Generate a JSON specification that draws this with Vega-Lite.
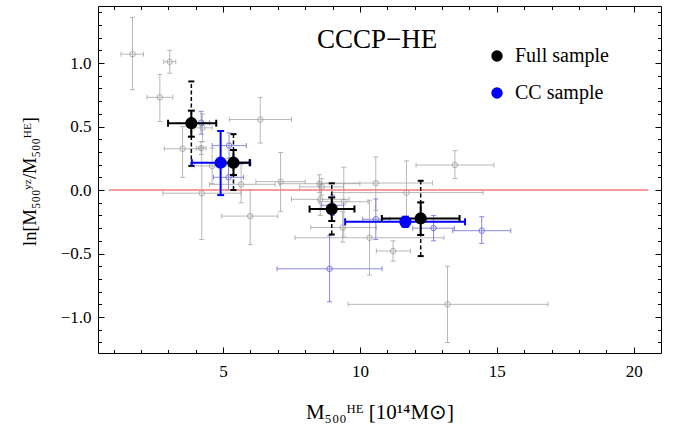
{
  "$schema": "https://vega.github.io/schema/vega-lite/v6.json",
  "width": 563,
  "height": 347,
  "autosize": {"type": "none"},
  "padding": {"left": 98, "top": 6, "right": 15, "bottom": 80},
  "background": "white",
  "config": {
    "view": {"stroke": "black", "strokeWidth": 1},
    "font": "Liberation Serif"
  },
  "datasets": {
    "small": [
      {"g":"gray","x":1.69,"y":1.07,"xlo":1.27,"xhi":2.09,"ylo":0.79,"yhi":1.36},
      {"g":"gray","x":3.05,"y":1.01,"xlo":2.83,"xhi":3.27,"ylo":0.92,"yhi":1.10},
      {"g":"gray","x":2.69,"y":0.73,"xlo":2.22,"xhi":3.16,"ylo":0.54,"yhi":0.91},
      {"g":"gray","x":6.36,"y":0.555,"xlo":5.23,"xhi":7.5,"ylo":0.37,"yhi":0.73},
      {"g":"gray","x":3.52,"y":0.325,"xlo":2.85,"xhi":4.2,"ylo":0.1,"yhi":0.5},
      {"g":"gray","x":4.25,"y":0.49,"xlo":3.95,"xhi":4.6,"ylo":0.38,"yhi":0.6},
      {"g":"gray","x":4.2,"y":0.33,"xlo":4.02,"xhi":4.38,"ylo":0.28,"yhi":0.38},
      {"g":"gray","x":4.6,"y":0.19,"xlo":3.95,"xhi":5.3,"ylo":0.05,"yhi":0.33},
      {"g":"gray","x":5.66,"y":0.045,"xlo":4.5,"xhi":6.9,"ylo":-0.1,"yhi":0.2},
      {"g":"gray","x":7.1,"y":0.066,"xlo":6.2,"xhi":8.0,"ylo":-0.17,"yhi":0.295},
      {"g":"gray","x":4.22,"y":-0.025,"xlo":2.8,"xhi":5.66,"ylo":-0.39,"yhi":0.34},
      {"g":"gray","x":5.99,"y":-0.205,"xlo":4.95,"xhi":7.0,"ylo":-0.43,"yhi":0.0},
      {"g":"gray","x":8.52,"y":0.05,"xlo":7.07,"xhi":10.0,"ylo":-0.02,"yhi":0.12},
      {"g":"gray","x":8.6,"y":0.025,"xlo":7.8,"xhi":9.4,"ylo":-0.04,"yhi":0.09},
      {"g":"gray","x":10.58,"y":0.055,"xlo":8.5,"xhi":12.65,"ylo":-0.16,"yhi":0.26},
      {"g":"gray","x":13.47,"y":0.197,"xlo":12.05,"xhi":14.9,"ylo":0.09,"yhi":0.31},
      {"g":"gray","x":11.7,"y":-0.02,"xlo":9.0,"xhi":14.5,"ylo":-0.26,"yhi":0.23},
      {"g":"gray","x":8.55,"y":-0.073,"xlo":7.5,"xhi":9.6,"ylo":-0.2,"yhi":0.05},
      {"g":"gray","x":9.41,"y":-0.092,"xlo":8.5,"xhi":10.3,"ylo":-0.37,"yhi":0.18},
      {"g":"gray","x":9.37,"y":-0.295,"xlo":8.2,"xhi":10.6,"ylo":-0.41,"yhi":-0.17},
      {"g":"gray","x":10.35,"y":-0.376,"xlo":7.63,"xhi":13.07,"ylo":-0.67,"yhi":-0.08},
      {"g":"gray","x":11.21,"y":-0.48,"xlo":10.6,"xhi":11.85,"ylo":-0.56,"yhi":-0.4},
      {"g":"gray","x":13.2,"y":-0.9,"xlo":9.57,"xhi":16.87,"ylo":-1.2,"yhi":-0.6},
      {"g":"blue","x":4.2,"y":0.53,"xlo":3.9,"xhi":4.5,"ylo":0.44,"yhi":0.62},
      {"g":"blue","x":5.22,"y":0.35,"xlo":4.6,"xhi":5.85,"ylo":0.25,"yhi":0.45},
      {"g":"blue","x":5.2,"y":0.1,"xlo":4.65,"xhi":5.75,"ylo":0.0,"yhi":0.2},
      {"g":"blue","x":9.0,"y":-0.12,"xlo":8.6,"xhi":9.4,"ylo":-0.2,"yhi":-0.04},
      {"g":"blue","x":10.58,"y":-0.23,"xlo":10.1,"xhi":11.1,"ylo":-0.39,"yhi":-0.07},
      {"g":"blue","x":12.69,"y":-0.3,"xlo":11.93,"xhi":13.45,"ylo":-0.4,"yhi":-0.2},
      {"g":"blue","x":14.45,"y":-0.32,"xlo":13.39,"xhi":15.51,"ylo":-0.42,"yhi":-0.21},
      {"g":"blue","x":8.89,"y":-0.62,"xlo":6.97,"xhi":10.81,"ylo":-0.88,"yhi":-0.36}
    ],
    "big": [
      {"sample":"CC sample","x":4.91,"y":0.215,"xlo":3.86,"xhi":5.99,"ylo":-0.04,"yhi":0.465},
      {"sample":"CC sample","x":11.66,"y":-0.25,"xlo":9.46,"xhi":13.84,"ylo":-0.29,"yhi":-0.21},
      {"sample":"Full sample","x":3.84,"y":0.526,"xlo":2.99,"xhi":4.75,"ylo":0.42,"yhi":0.625,"dlo":0.19,"dhi":0.855},
      {"sample":"Full sample","x":5.38,"y":0.215,"xlo":4.93,"xhi":5.97,"ylo":0.118,"yhi":0.315,"dlo":0.0,"dhi":0.44},
      {"sample":"Full sample","x":8.97,"y":-0.15,"xlo":8.16,"xhi":9.8,"ylo":-0.244,"yhi":-0.058,"dlo":-0.35,"dhi":0.053},
      {"sample":"Full sample","x":12.22,"y":-0.224,"xlo":10.8,"xhi":13.64,"ylo":-0.354,"yhi":-0.097,"dlo":-0.52,"dhi":0.073}
    ]
  },
  "resolve": {"axis": {"x": "independent", "y": "independent"}},
  "layer": [
    {
      "data": {"name": "big"},
      "mark": {"type": "point", "opacity": 0},
      "encoding": {
        "x": {"field": "x", "type": "quantitative", "scale": {"domain": [0.43, 21.0], "nice": false, "zero": false},
          "axis": {"orient": "bottom", "values": [5, 10, 15, 20], "ticks": false, "domain": false, "grid": false,
            "labelFont": "Liberation Serif", "labelFontSize": 17, "labelColor": "black", "labelPadding": 10, "labelFlush": false, "labelOverlap": false,
            "title": "M₅₀₀ᴴᴱ [10¹⁴M⊙]", "titleFont": "Liberation Serif", "titleFontSize": 21, "titleFontWeight": "normal", "titleColor": "black",
            "titleBaseline": "alphabetic", "titleAlign": "center", "titleX": 281.5, "titleY": 65}},
        "y": {"field": "y", "type": "quantitative", "scale": {"domain": [-1.283, 1.449], "nice": false, "zero": false},
          "axis": {"orient": "left", "values": [-1, -0.5, 0, 0.5, 1], "format": ".1f", "ticks": false, "domain": false, "grid": false,
            "labelFont": "Liberation Serif", "labelFontSize": 17, "labelColor": "black", "labelPadding": 7, "labelFlush": false, "labelOverlap": false,
            "title": "ln[M₅₀₀ʸᶻ/M₅₀₀ᴴᴱ]", "titleFont": "Liberation Serif", "titleFontSize": 18.5, "titleFontWeight": "normal", "titleColor": "black",
            "titleAngle": -90, "titleBaseline": "alphabetic", "titleAlign": "center", "titleX": -63, "titleY": 175}}
      }
    },
    {
      "data": {"name": "big"},
      "mark": {"type": "point", "opacity": 0},
      "encoding": {
        "x": {"field": "x", "type": "quantitative", "scale": {"domain": [0.43, 21.0], "nice": false, "zero": false},
          "axis": {"orient": "bottom", "values": [5, 10, 15, 20], "labels": false, "domain": false, "grid": false, "offset": -6, "tickSize": 6, "tickColor": "black", "tickWidth": 1, "title": null}},
        "y": {"field": "y", "type": "quantitative", "scale": {"domain": [-1.283, 1.449], "nice": false, "zero": false},
          "axis": {"orient": "left", "values": [-1, -0.5, 0, 0.5, 1], "labels": false, "domain": false, "grid": false, "offset": -6, "tickSize": 6, "tickColor": "black", "tickWidth": 1, "title": null}}
      }
    },
    {
      "data": {"name": "big"},
      "mark": {"type": "point", "opacity": 0},
      "encoding": {
        "x": {"field": "x", "type": "quantitative", "scale": {"domain": [0.43, 21.0], "nice": false, "zero": false},
          "axis": {"orient": "bottom", "values": [1,2,3,4,6,7,8,9,11,12,13,14,16,17,18,19], "labels": false, "domain": false, "grid": false, "offset": -3.5, "tickSize": 3.5, "tickColor": "black", "tickWidth": 1, "title": null}},
        "y": {"field": "y", "type": "quantitative", "scale": {"domain": [-1.283, 1.449], "nice": false, "zero": false},
          "axis": {"orient": "left", "values": [-1.2,-1.1,-0.9,-0.8,-0.7,-0.6,-0.4,-0.3,-0.2,-0.1,0.1,0.2,0.3,0.4,0.6,0.7,0.8,0.9,1.1,1.2,1.3,1.4], "labels": false, "domain": false, "grid": false, "offset": -3.5, "tickSize": 3.5, "tickColor": "black", "tickWidth": 1, "title": null}}
      }
    },
    {
      "data": {"name": "big"},
      "mark": {"type": "point", "opacity": 0},
      "encoding": {
        "x": {"field": "x", "type": "quantitative", "scale": {"domain": [0.43, 21.0], "nice": false, "zero": false},
          "axis": {"orient": "top", "values": [5, 10, 15, 20], "labels": false, "domain": false, "grid": false, "offset": -6, "tickSize": 6, "tickColor": "black", "tickWidth": 1, "title": null}},
        "y": {"field": "y", "type": "quantitative", "scale": {"domain": [-1.283, 1.449], "nice": false, "zero": false},
          "axis": {"orient": "right", "values": [-1, -0.5, 0, 0.5, 1], "labels": false, "domain": false, "grid": false, "offset": -6, "tickSize": 6, "tickColor": "black", "tickWidth": 1, "title": null}}
      }
    },
    {
      "data": {"name": "big"},
      "mark": {"type": "point", "opacity": 0},
      "encoding": {
        "x": {"field": "x", "type": "quantitative", "scale": {"domain": [0.43, 21.0], "nice": false, "zero": false},
          "axis": {"orient": "top", "values": [1,2,3,4,6,7,8,9,11,12,13,14,16,17,18,19], "labels": false, "domain": false, "grid": false, "offset": -3.5, "tickSize": 3.5, "tickColor": "black", "tickWidth": 1, "title": null}},
        "y": {"field": "y", "type": "quantitative", "scale": {"domain": [-1.283, 1.449], "nice": false, "zero": false},
          "axis": {"orient": "right", "values": [-1.2,-1.1,-0.9,-0.8,-0.7,-0.6,-0.4,-0.3,-0.2,-0.1,0.1,0.2,0.3,0.4,0.6,0.7,0.8,0.9,1.1,1.2,1.3,1.4], "labels": false, "domain": false, "grid": false, "offset": -3.5, "tickSize": 3.5, "tickColor": "black", "tickWidth": 1, "title": null}}
      }
    },
    {
      "data": {"name": "small"},
      "mark": {"type": "rule", "strokeWidth": 1, "opacity": 0.75},
      "encoding": {
        "x": {"field": "xlo", "type": "quantitative", "scale": {"domain": [0.43, 21.0], "nice": false, "zero": false}, "axis": null},
        "x2": {"field": "xhi"},
        "y": {"field": "y", "type": "quantitative", "scale": {"domain": [-1.283, 1.449], "nice": false, "zero": false}, "axis": null},
        "stroke": {"field": "g", "type": "nominal", "scale": {"domain": ["gray", "blue"], "range": ["#a0a0a0", "#6464d6"]}, "legend": null}
      }
    },
    {
      "data": {"name": "small"},
      "mark": {"type": "rule", "strokeWidth": 1, "opacity": 0.75},
      "encoding": {
        "x": {"field": "x", "type": "quantitative", "scale": {"domain": [0.43, 21.0], "nice": false, "zero": false}, "axis": null},
        "y": {"field": "ylo", "type": "quantitative", "scale": {"domain": [-1.283, 1.449], "nice": false, "zero": false}, "axis": null},
        "y2": {"field": "yhi"},
        "stroke": {"field": "g", "type": "nominal", "legend": null}
      }
    },
    {
      "data": {"name": "small"},
      "transform": [{"fold": ["xlo", "xhi"], "as": ["k", "xc"]}],
      "mark": {"type": "tick", "orient": "vertical", "size": 5, "thickness": 1, "opacity": 0.75},
      "encoding": {
        "x": {"field": "xc", "type": "quantitative", "scale": {"domain": [0.43, 21.0], "nice": false, "zero": false}, "axis": null},
        "y": {"field": "y", "type": "quantitative", "scale": {"domain": [-1.283, 1.449], "nice": false, "zero": false}, "axis": null},
        "fill": {"field": "g", "type": "nominal", "scale": {"domain": ["gray", "blue"], "range": ["#a0a0a0", "#6464d6"]}, "legend": null}
      }
    },
    {
      "data": {"name": "small"},
      "transform": [{"fold": ["ylo", "yhi"], "as": ["k", "yc"]}],
      "mark": {"type": "tick", "orient": "horizontal", "size": 5, "thickness": 1, "opacity": 0.75},
      "encoding": {
        "x": {"field": "x", "type": "quantitative", "scale": {"domain": [0.43, 21.0], "nice": false, "zero": false}, "axis": null},
        "y": {"field": "yc", "type": "quantitative", "scale": {"domain": [-1.283, 1.449], "nice": false, "zero": false}, "axis": null},
        "fill": {"field": "g", "type": "nominal", "legend": null}
      }
    },
    {
      "data": {"name": "small"},
      "mark": {"type": "point", "filled": false, "size": 30, "strokeWidth": 1, "opacity": 0.85},
      "encoding": {
        "x": {"field": "x", "type": "quantitative", "scale": {"domain": [0.43, 21.0], "nice": false, "zero": false}, "axis": null},
        "y": {"field": "y", "type": "quantitative", "scale": {"domain": [-1.283, 1.449], "nice": false, "zero": false}, "axis": null},
        "stroke": {"field": "g", "type": "nominal", "legend": null}
      }
    },
    {
      "data": {"values": [{}]},
      "mark": {"type": "rule", "color": "#f27c7c", "strokeWidth": 1.5},
      "encoding": {
        "x": {"datum": 0.83, "type": "quantitative", "scale": {"domain": [0.43, 21.0], "nice": false, "zero": false}, "axis": null},
        "x2": {"datum": 20.54},
        "y": {"datum": 0, "type": "quantitative", "scale": {"domain": [-1.283, 1.449], "nice": false, "zero": false}, "axis": null}
      }
    },
    {
      "data": {"name": "big"},
      "transform": [{"filter": "datum.dlo != null"}],
      "mark": {"type": "rule", "strokeWidth": 1.5, "strokeDash": [4, 2.5], "color": "black"},
      "encoding": {
        "x": {"field": "x", "type": "quantitative", "scale": {"domain": [0.43, 21.0], "nice": false, "zero": false}, "axis": null},
        "y": {"field": "dlo", "type": "quantitative", "scale": {"domain": [-1.283, 1.449], "nice": false, "zero": false}, "axis": null},
        "y2": {"field": "dhi"}
      }
    },
    {
      "data": {"name": "big"},
      "transform": [{"filter": "datum.dlo != null"}, {"fold": ["dlo", "dhi"], "as": ["k", "yc"]}],
      "mark": {"type": "tick", "orient": "horizontal", "size": 6, "thickness": 2, "opacity": 1, "color": "black"},
      "encoding": {
        "x": {"field": "x", "type": "quantitative", "scale": {"domain": [0.43, 21.0], "nice": false, "zero": false}, "axis": null},
        "y": {"field": "yc", "type": "quantitative", "scale": {"domain": [-1.283, 1.449], "nice": false, "zero": false}, "axis": null}
      }
    },
    {
      "data": {"name": "big"},
      "mark": {"type": "rule", "strokeWidth": 2},
      "encoding": {
        "x": {"field": "xlo", "type": "quantitative", "scale": {"domain": [0.43, 21.0], "nice": false, "zero": false}, "axis": null},
        "x2": {"field": "xhi"},
        "y": {"field": "y", "type": "quantitative", "scale": {"domain": [-1.283, 1.449], "nice": false, "zero": false}, "axis": null},
        "color": {"condition": {"test": "datum.sample === 'CC sample'", "value": "#0000ff"}, "value": "#000000"}
      }
    },
    {
      "data": {"name": "big"},
      "mark": {"type": "rule", "strokeWidth": 2},
      "encoding": {
        "x": {"field": "x", "type": "quantitative", "scale": {"domain": [0.43, 21.0], "nice": false, "zero": false}, "axis": null},
        "y": {"field": "ylo", "type": "quantitative", "scale": {"domain": [-1.283, 1.449], "nice": false, "zero": false}, "axis": null},
        "y2": {"field": "yhi"},
        "color": {"condition": {"test": "datum.sample === 'CC sample'", "value": "#0000ff"}, "value": "#000000"}
      }
    },
    {
      "data": {"name": "big"},
      "transform": [{"fold": ["xlo", "xhi"], "as": ["k", "xc"]}],
      "mark": {"type": "tick", "orient": "vertical", "size": 7, "thickness": 2, "opacity": 1},
      "encoding": {
        "x": {"field": "xc", "type": "quantitative", "scale": {"domain": [0.43, 21.0], "nice": false, "zero": false}, "axis": null},
        "y": {"field": "y", "type": "quantitative", "scale": {"domain": [-1.283, 1.449], "nice": false, "zero": false}, "axis": null},
        "color": {"condition": {"test": "datum.sample === 'CC sample'", "value": "#0000ff"}, "value": "#000000"}
      }
    },
    {
      "data": {"name": "big"},
      "transform": [{"fold": ["ylo", "yhi"], "as": ["k", "yc"]}],
      "mark": {"type": "tick", "orient": "horizontal", "size": 7, "thickness": 2, "opacity": 1},
      "encoding": {
        "x": {"field": "x", "type": "quantitative", "scale": {"domain": [0.43, 21.0], "nice": false, "zero": false}, "axis": null},
        "y": {"field": "yc", "type": "quantitative", "scale": {"domain": [-1.283, 1.449], "nice": false, "zero": false}, "axis": null},
        "color": {"condition": {"test": "datum.sample === 'CC sample'", "value": "#0000ff"}, "value": "#000000"}
      }
    },
    {
      "data": {"name": "big"},
      "mark": {"type": "point", "filled": true, "size": 150, "opacity": 1, "shape": "circle"},
      "encoding": {
        "x": {"field": "x", "type": "quantitative", "scale": {"domain": [0.43, 21.0], "nice": false, "zero": false}, "axis": null},
        "y": {"field": "y", "type": "quantitative", "scale": {"domain": [-1.283, 1.449], "nice": false, "zero": false}, "axis": null},
        "color": {"field": "sample", "type": "nominal", "scale": {"domain": ["Full sample", "CC sample"], "range": ["#000000", "#0000ff"]},
          "legend": {"orient": "none", "legendX": 389, "legendY": 40, "title": null, "labelFont": "Liberation Serif", "labelFontSize": 20, "labelColor": "black",
            "symbolSize": 130, "symbolType": "circle", "symbolStrokeWidth": 0, "symbolOpacity": 1, "labelOffset": 8, "rowPadding": 17}}
      }
    },
    {
      "data": {"values": [{}]},
      "mark": {"type": "text", "text": "CCCP−HE", "font": "Liberation Serif", "fontSize": 27, "align": "left", "baseline": "alphabetic", "color": "black"},
      "encoding": {
        "x": {"datum": 8.43, "type": "quantitative", "scale": {"domain": [0.43, 21.0], "nice": false, "zero": false}, "axis": null},
        "y": {"datum": 1.118, "type": "quantitative", "scale": {"domain": [-1.283, 1.449], "nice": false, "zero": false}, "axis": null}
      }
    }
  ]
}
